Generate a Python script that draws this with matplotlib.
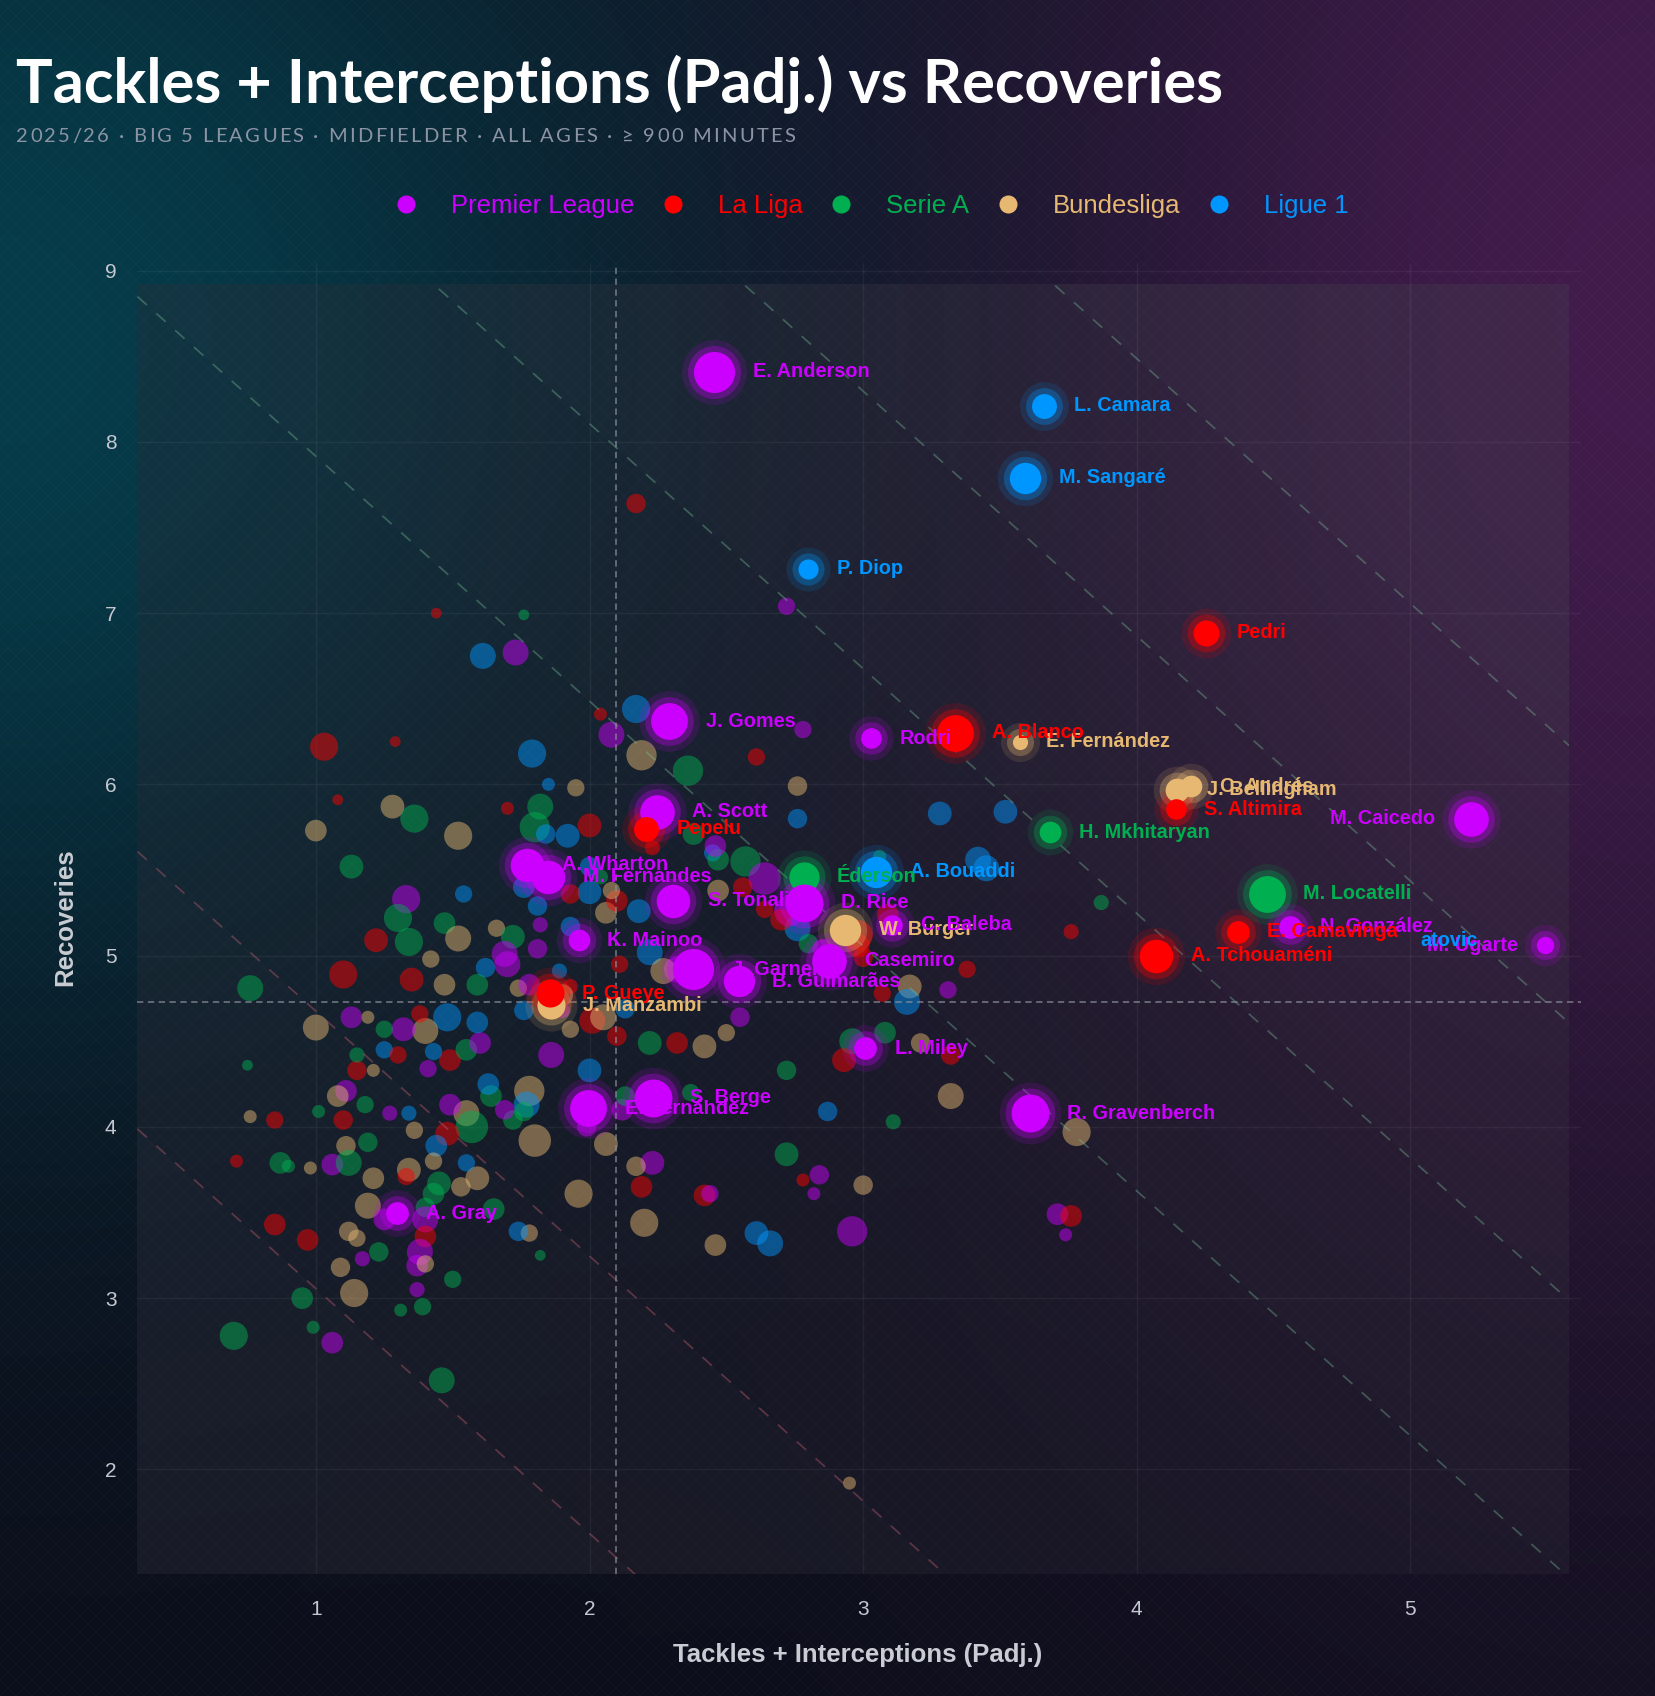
import matplotlib

matplotlib.use("Agg")
import matplotlib.pyplot as plt
import numpy as np
from matplotlib.collections import LineCollection
from matplotlib.lines import Line2D
from matplotlib.patches import Rectangle

W, H, DPI = 1656, 1696, 100

TITLE = "Tackles + Interceptions (Padj.) vs Recoveries"
SUBTITLE = "2025/26 · BIG 5 LEAGUES · MIDFIELDER · ALL AGES · ≥ 900 MINUTES"
X_LABEL = "Tackles + Interceptions (Padj.)"
Y_LABEL = "Recoveries"

LEAGUES = ["Premier League", "La Liga", "Serie A", "Bundesliga", "Ligue 1"]
LEAGUE_CODES = ["P", "R", "G", "B", "L"]
LEAGUE_COLORS = {"P": "#cc00ff", "R": "#ff0000", "G": "#00b050",
                 "B": "#e6b872", "L": "#0096ff"}

X_TICKS = [1, 2, 3, 4, 5]
Y_TICKS = [2, 3, 4, 5, 6, 7, 8, 9]

# medians used for the reference lines
X_MEAN = 2.095
Y_MEAN = 4.73

# labelled players (drawing order matters for overlapping labels)
names = ["E. Anderson", "L. Camara", "M. Sangaré", "P. Diop", "Pedri",
         "J. Gomes", "Rodri", "E. Fernández", "A. Blanco", "C. Andrés",
         "J. Bellingham", "S. Altimira", "M. Caicedo", "H. Mkhitaryan",
         "A. Scott", "Pepelu", "A. Wharton", "M. Fernandes", "A. Bouaddi",
         "Éderson", "S. Tonali", "D. Rice", "W. Burger", "C. Baleba",
         "K. Mainoo", "M. Locatelli", "N. González", "E. Camavinga",
         "A. Tchouaméni", "M. Ugarte", "J. Garner", "B. Guimarães",
         "Casemiro", "J. Manzambi", "P. Gueye", "L. Miley", "S. Berge",
         "E. Fernández", "R. Gravenberch", "A. Gray"]
lab_x = [2.455, 3.66, 3.593, 2.80, 4.253, 2.292, 3.028, 3.573, 3.336, 4.198,
         4.146, 4.142, 5.221, 3.684, 2.245, 2.206, 1.771, 1.85, 3.047, 2.783,
         2.304, 2.783, 2.933, 3.107, 1.96, 4.474, 4.561, 4.368, 4.071, 5.49,
         2.379, 2.545, 2.874, 1.858, 1.854, 3.008, 2.233, 1.996, 3.609, 1.296]
lab_y = [8.41, 8.21, 7.79, 7.26, 6.885, 6.37, 6.27, 6.25, 6.30, 5.99,
         5.97, 5.855, 5.80, 5.72, 5.84, 5.74, 5.53, 5.46, 5.49, 5.46,
         5.32, 5.31, 5.15, 5.18, 5.09, 5.36, 5.17, 5.14, 5.00, 5.06,
         4.92, 4.85, 4.97, 4.71, 4.78, 4.46, 4.17, 4.11, 4.08, 3.495]
lab_min = [2300, 1550, 1850, 1330, 1600, 2100, 1350, 1100, 2100, 1400,
           1500, 1350, 2000, 1400, 2000, 1550, 1950, 1950, 1850, 1800,
           1950, 2150, 1850, 1350, 1400, 2100, 1450, 1450, 1950, 1200,
           2300, 1850, 2000, 1700, 1700, 1450, 2150, 2100, 2150, 1450]
lab_lg = ["P", "L", "L", "L", "R", "P", "P", "B", "R", "B",
          "B", "R", "P", "G", "P", "R", "P", "P", "L", "G",
          "P", "P", "B", "P", "P", "G", "P", "R", "R", "P",
          "P", "P", "P", "B", "R", "P", "P", "P", "P", "P"]

# stray, partly hidden label seen at the right edge
extra_label = "atovic"
extra_x, extra_y, extra_lg = 5.036, 5.09, "L"

# all other midfielders (faded)
bg_x = [2.17, 1.44, 1.76, 2.72, 1.61, 1.73, 2.04, 1.29, 1.03, 2.17,
        2.08, 1.79, 2.19, 2.36, 2.61, 2.78, 2.76, 3.28, 3.52, 2.76,
        1.08, 1.28, 1.36, 1.00, 1.70, 1.52, 1.85, 1.95, 1.82, 1.92,
        2.00, 1.80, 1.84, 2.23, 2.38, 2.45, 2.57, 2.64, 2.47, 2.46,
        3.06, 3.42, 3.45, 3.87, 3.76, 1.13, 1.33, 1.54, 1.30, 1.34,
        1.22, 1.47, 1.52, 1.42, 1.66, 1.72, 1.69, 1.62, 1.70, 1.82,
        1.81, 1.93, 2.00, 2.06, 2.10, 2.18, 2.22, 2.11, 1.89, 1.93,
        1.90, 2.01, 1.93, 2.05, 2.13, 2.10, 2.22, 2.32, 2.42, 2.55,
        2.50, 2.64, 2.76, 2.80, 2.98, 3.00, 3.07, 3.17, 3.16, 3.31,
        3.38, 3.21, 3.32, 2.96, 3.08, 2.93, 2.72, 3.32, 2.87, 3.11,
        3.78, 2.72, 2.84, 2.78, 2.82, 3.00, 2.96, 3.71, 3.76, 3.74,
        2.61, 2.66, 2.46, 2.42, 2.44, 2.23, 2.17, 2.19, 2.20, 1.96,
        2.06, 2.12, 2.37, 2.13, 2.00, 1.99, 1.80, 1.78, 1.86, 1.77,
        1.76, 1.72, 1.64, 1.63, 1.69, 1.78, 1.74, 1.82, 1.59, 1.53,
        1.65, 1.55, 1.57, 1.48, 1.44, 1.55, 1.49, 1.49, 1.55, 1.60,
        1.59, 1.48, 1.40, 1.43, 1.41, 1.32, 1.38, 1.25, 1.19, 1.13,
        1.00, 1.10, 1.35, 1.47, 1.59, 0.76, 1.74, 1.25, 1.21, 1.30,
        1.15, 1.11, 1.08, 1.15, 0.75, 0.76, 0.85, 1.01, 1.10, 1.18,
        1.27, 1.34, 1.36, 1.19, 1.11, 1.06, 1.12, 0.71, 0.87, 0.90,
        0.98, 1.21, 1.34, 1.33, 1.43, 1.45, 1.43, 1.40, 1.19, 0.85,
        0.97, 1.12, 1.15, 1.23, 1.17, 1.25, 1.40, 1.40, 1.38, 1.37,
        1.40, 1.09, 1.50, 1.37, 1.14, 0.95, 1.31, 1.39, 0.99, 0.70,
        1.06, 1.46, 2.95, 1.76, 1.81, 1.93, 2.00, 2.04, 2.08, 2.73,
        2.56, 2.70, 2.47, 2.98, 3.09, 2.85, 2.32, 2.27, 1.78, 1.90,
        1.76]
bg_y = [7.64, 7.00, 6.99, 7.04, 6.75, 6.77, 6.41, 6.25, 6.22, 6.44,
        6.29, 6.18, 6.17, 6.08, 6.16, 6.32, 5.99, 5.83, 5.84, 5.80,
        5.91, 5.87, 5.80, 5.73, 5.86, 5.70, 6.00, 5.98, 5.87, 5.70,
        5.76, 5.75, 5.71, 5.63, 5.71, 5.60, 5.55, 5.45, 5.56, 5.64,
        5.58, 5.56, 5.51, 5.31, 5.14, 5.52, 5.33, 5.36, 5.22, 5.08,
        5.09, 5.19, 5.10, 4.98, 5.16, 5.11, 5.01, 4.93, 4.95, 5.18,
        5.04, 5.17, 5.37, 5.25, 5.32, 5.26, 5.02, 4.95, 4.91, 4.82,
        4.68, 4.62, 4.57, 4.64, 4.69, 4.53, 4.49, 4.49, 4.47, 4.64,
        4.55, 5.27, 5.16, 5.07, 5.06, 4.99, 4.78, 4.82, 4.73, 4.80,
        4.92, 4.49, 4.42, 4.50, 4.55, 4.39, 4.33, 4.18, 4.09, 4.03,
        3.97, 3.84, 3.72, 3.69, 3.61, 3.66, 3.39, 3.49, 3.48, 3.37,
        3.38, 3.32, 3.31, 3.60, 3.61, 3.79, 3.77, 3.65, 3.44, 3.61,
        3.90, 4.10, 4.20, 4.18, 4.33, 4.00, 3.92, 4.21, 4.42, 4.13,
        4.09, 4.04, 4.18, 4.25, 4.10, 3.38, 3.39, 3.25, 3.70, 3.65,
        3.52, 4.08, 4.00, 3.96, 3.89, 3.79, 4.13, 4.39, 4.45, 4.49,
        4.61, 4.64, 4.56, 4.44, 4.34, 4.57, 4.66, 4.57, 4.64, 4.64,
        4.58, 4.89, 4.86, 4.83, 4.83, 4.81, 4.81, 4.45, 4.33, 4.42,
        4.33, 4.21, 4.18, 4.42, 4.36, 4.06, 4.04, 4.09, 4.04, 4.13,
        4.08, 4.08, 3.98, 3.91, 3.89, 3.78, 3.79, 3.80, 3.79, 3.77,
        3.76, 3.70, 3.75, 3.71, 3.80, 3.67, 3.61, 3.53, 3.54, 3.43,
        3.34, 3.39, 3.35, 3.27, 3.23, 3.46, 3.46, 3.36, 3.27, 3.19,
        3.20, 3.18, 3.11, 3.05, 3.03, 3.00, 2.93, 2.95, 2.83, 2.78,
        2.74, 2.52, 1.92, 5.40, 5.29, 5.36, 5.52, 5.46, 5.38, 5.26,
        5.40, 5.21, 5.38, 5.12, 5.24, 5.04, 4.92, 4.91, 4.83, 4.77,
        4.68]
bg_min = [1300, 900, 900, 1200, 1600, 1600, 1000, 900, 1700, 1700,
          1600, 1700, 1800, 1800, 1200, 1200, 1300, 1500, 1500, 1300,
          900, 1500, 1700, 1400, 1000, 1700, 1000, 1200, 1600, 1500,
          1500, 1800, 1300, 1100, 1400, 1200, 1800, 1900, 1400, 1400,
          1000, 1600, 1600, 1100, 1100, 1500, 1700, 1200, 1700, 1700,
          1500, 1400, 1600, 1200, 1200, 1500, 1600, 1300, 1600, 1100,
          1300, 1300, 1500, 1400, 1400, 1500, 1600, 1200, 1100, 1100,
          1100, 1600, 1200, 1600, 1300, 1300, 1500, 1400, 1500, 1300,
          1200, 1200, 1600, 1300, 1500, 1300, 1200, 1500, 1600, 1200,
          1200, 1300, 1300, 1600, 1400, 1500, 1300, 1600, 1300, 1100,
          1700, 1500, 1300, 1000, 1000, 1300, 1800, 1400, 1400, 1000,
          1500, 1600, 1400, 1400, 1200, 1500, 1300, 1400, 1700, 1700,
          1500, 1400, 1200, 1300, 1500, 1300, 1900, 1800, 1600, 1600,
          1300, 1300, 1400, 1400, 1300, 1200, 1300, 900, 1500, 1300,
          1400, 1600, 1900, 1500, 1400, 1200, 1400, 1400, 1400, 1400,
          1400, 1700, 1600, 1200, 1200, 1500, 1200, 1200, 1000, 1400,
          1600, 1700, 1500, 1400, 1400, 1600, 1200, 1200, 1000, 1200,
          1300, 1400, 1400, 1100, 900, 1000, 1200, 1000, 1300, 1200,
          1100, 1100, 1200, 1300, 1300, 1400, 1600, 1000, 1400, 1000,
          1000, 1400, 1500, 1200, 1200, 1500, 1400, 1300, 1600, 1400,
          1400, 1300, 1200, 1300, 1100, 1400, 1600, 1400, 1600, 1400,
          1200, 1300, 1200, 1100, 1700, 1400, 1000, 1200, 1000, 1700,
          1400, 1600, 1000, 1400, 1300, 1300, 1300, 1100, 1200, 1800,
          1300, 1400, 1400, 1800, 1400, 1300, 1600, 1600, 1400, 1400,
          1300]
bg_lg = ["R", "R", "G", "P", "L", "P", "R", "R", "R", "L",
         "P", "L", "B", "G", "R", "P", "B", "L", "L", "L",
         "R", "B", "G", "B", "R", "B", "L", "B", "G", "L",
         "R", "G", "L", "R", "G", "L", "G", "P", "G", "P",
         "G", "L", "L", "G", "R", "G", "P", "L", "G", "G",
         "R", "G", "B", "B", "B", "G", "P", "L", "P", "P",
         "P", "L", "L", "B", "R", "L", "L", "R", "L", "R",
         "P", "R", "B", "B", "L", "R", "G", "R", "B", "P",
         "B", "R", "L", "G", "R", "R", "R", "B", "L", "P",
         "R", "B", "R", "G", "G", "R", "G", "B", "L", "G",
         "B", "G", "P", "R", "P", "B", "P", "P", "R", "P",
         "L", "L", "B", "R", "P", "P", "B", "R", "B", "B",
         "B", "P", "G", "G", "L", "P", "B", "B", "P", "L",
         "G", "G", "G", "L", "P", "B", "L", "G", "B", "B",
         "G", "B", "G", "R", "L", "L", "P", "R", "G", "P",
         "L", "L", "B", "L", "P", "P", "R", "G", "B", "P",
         "B", "R", "R", "B", "G", "G", "B", "L", "B", "R",
         "R", "P", "B", "G", "G", "B", "R", "G", "R", "G",
         "P", "L", "B", "G", "B", "P", "G", "R", "G", "G",
         "B", "B", "B", "R", "B", "G", "G", "G", "B", "R",
         "R", "B", "B", "G", "P", "P", "P", "R", "P", "P",
         "B", "B", "G", "P", "B", "G", "G", "G", "G", "G",
         "P", "G", "B", "L", "L", "R", "L", "G", "B", "P",
         "R", "R", "B", "R", "R", "P", "P", "B", "P", "B",
         "L"]

# z-score style diagonal guides: y + SLOPE * x = C0 + k * STEP
SLOPE = 1.43
C0 = Y_MEAN + SLOPE * X_MEAN
STEP = 1.62
LEVELS = [-2, -1, 1, 2, 3, 4]

XLIM = (0.348, 5.625)
YLIM = (1.39, 9.045)
PANEL = (0.348, 1.39, 5.58, 8.92)   # x0, y0, x1, y1


def radius_pt(minutes):
    return (5 + (np.asarray(minutes, dtype=float) - 900) / 100) * 0.779


fig = plt.figure(figsize=(W / DPI, H / DPI), dpi=DPI)

# ── background gradient + diamond texture ─────────────────────────
bg_ax = fig.add_axes([0, 0, 1, 1], zorder=-10)
bg_ax.set_axis_off()
gx, gy = np.meshgrid(np.linspace(0, 1, 400), np.linspace(1, 0, 400))
base = np.array([12, 14, 26]) / 255
teal = np.array([6, 60, 74]) / 255
purple = np.array([66, 28, 76]) / 255
w_teal = np.exp(-((gx / 0.42) ** 2 + ((gy - 0.80) / 0.42) ** 2))
w_purp = np.exp(-(((1 - gx) / 0.42) ** 2 + ((gy - 0.82) / 0.60) ** 2))
w_purp = np.clip(w_purp, 0, 1) * (1 - w_teal)
img = (base[None, None, :] * (1 - w_teal - w_purp)[..., None]
       + teal[None, None, :] * w_teal[..., None]
       + purple[None, None, :] * w_purp[..., None])
bg_ax.imshow(np.clip(img, 0, 1), extent=[0, W, 0, H], aspect="auto",
             interpolation="bilinear")
segs = []
for k in range(-H, W + H, 16):
    segs.append([(k, 0), (k + H, H)])
    segs.append([(k, 0), (k - H, H)])
bg_ax.add_collection(LineCollection(segs, colors="white", linewidths=0.6,
                                    alpha=0.03))
bg_ax.set_xlim(0, W)
bg_ax.set_ylim(0, H)

# ── main axes ──────────────────────────────────────────────────────
ax = fig.add_axes([0.083, 0.072, 0.872, 0.773])
ax.patch.set_alpha(0)
ax.set_xlim(*XLIM)
ax.set_ylim(*YLIM)
for s in ax.spines.values():
    s.set_visible(False)
ax.set_xticks(X_TICKS)
ax.set_yticks(Y_TICKS)
ax.tick_params(length=0, labelsize=15, labelcolor="#c4c8d0")
ax.tick_params(axis="x", pad=19)
ax.tick_params(axis="y", pad=15)
for lab in ax.get_xticklabels() + ax.get_yticklabels():
    lab.set_family("Liberation Sans")
ax.grid(True, color="white", alpha=0.05, lw=1)
ax.set_axisbelow(True)

# panel: greyish veil that mutes the purple glow
panel = Rectangle((PANEL[0], PANEL[1]), PANEL[2] - PANEL[0],
                  PANEL[3] - PANEL[1], facecolor="#1c1a26", alpha=0.28,
                  edgecolor="none", zorder=0.4)
ax.add_patch(panel)
ax.add_patch(Rectangle((PANEL[0], PANEL[1]), PANEL[2] - PANEL[0],
                       PANEL[3] - PANEL[1], facecolor="white", alpha=0.022,
                       edgecolor="none", zorder=0.45))

# shaded bands, a bit lighter the further from the median line
bx, by = np.meshgrid(np.linspace(PANEL[0], PANEL[2], 1400),
                     np.linspace(PANEL[1], PANEL[3], 1400))
z = (by + SLOPE * bx - C0) / STEP
lvl = np.where(z < 0, np.clip(np.floor(-z), 0, 2), np.clip(np.floor(z), 0, 4))
band = np.zeros(bx.shape + (4,))
band[..., :3] = np.array([200, 196, 212]) / 255
band[..., 3] = 0.013 * lvl
ax.imshow(band, extent=[PANEL[0], PANEL[2], PANEL[1], PANEL[3]],
          origin="lower", aspect="auto", interpolation="nearest", zorder=0.5)
ax.set_xlim(*XLIM)
ax.set_ylim(*YLIM)

# faded points
bg_r = radius_pt(bg_min)
bg_c = [LEAGUE_COLORS[c] for c in bg_lg]
ax.scatter(bg_x, bg_y, s=(2 * bg_r) ** 2, c=bg_c, alpha=0.48,
           linewidths=0, zorder=2)

# diagonal guides
xs = np.linspace(PANEL[0], PANEL[2], 400)
for k in LEVELS:
    ys = C0 + k * STEP - SLOPE * xs
    col = "#7cc39a" if k > 0 else "#d56676"
    ln, = ax.plot(xs, ys, color=col, alpha=0.36, lw=1.3,
                  ls=(0, (7, 7)), zorder=3)
    ln.set_clip_path(panel)

# median lines
ax.axvline(X_MEAN, color="#8a8f9a", lw=1.3, alpha=0.7,
           ls=(0, (3.5, 2.5)), zorder=3)
ax.axhline(Y_MEAN, color="#8a8f9a", lw=1.3, alpha=0.7,
           ls=(0, (3.5, 2.5)), zorder=3)

# highlighted players
lab_r = radius_pt(lab_min)
for x, y, r, lg in zip(lab_x, lab_y, lab_r, lab_lg):
    c = LEAGUE_COLORS[lg]
    ax.scatter([x], [y], s=(2 * (r + 8.6)) ** 2, color=c, alpha=0.13,
               linewidths=0, zorder=4)
    ax.scatter([x], [y], s=(2 * (r + 4.3)) ** 2, color=c, alpha=0.30,
               linewidths=0, zorder=4)
    ax.scatter([x], [y], s=(2 * r) ** 2, color=c, linewidths=0, zorder=5)

for name, x, y, r, lg in zip(names, lab_x, lab_y, lab_r, lab_lg):
    right = x > 5.0
    ax.annotate(name, (x, y), xytext=(-(r + 13) if right else r + 13, 0),
                textcoords="offset points", ha="right" if right else "left",
                va="center", fontsize=14.3, fontweight="bold",
                family="Liberation Sans", color=LEAGUE_COLORS[lg], zorder=6)
ax.text(extra_x, extra_y, extra_label, ha="left", va="center", fontsize=14.3,
        fontweight="bold", family="Liberation Sans",
        color=LEAGUE_COLORS[extra_lg], zorder=6)

# ── titles, legend, axis labels ───────────────────────────────────
renderer = fig.canvas.get_renderer()

title = fig.text(16 / W, 0.939, TITLE, family="Lato", fontweight="bold",
                 color="white", fontsize=44, va="baseline", ha="left")
tw = title.get_window_extent(renderer).width
title.set_fontsize(44 * 1207 / tw)

sub_kw = dict(family="Lato", fontsize=14.5, color="#8c94a4", va="baseline")
ref = fig.text(0, 0, "||", **sub_kw)
ref_w = ref.get_window_extent(renderer).width
ref.remove()
adv = []
for ch in SUBTITLE:
    t = fig.text(0, 0, "|" + ch + "|", **sub_kw)
    adv.append(t.get_window_extent(renderer).width - ref_w)
    t.remove()
track = (779 - sum(adv)) / (len(SUBTITLE) - 1)
xpos = 16.0
for ch, a in zip(SUBTITLE, adv):
    fig.text(xpos / W, 0.9164, ch, ha="left", **sub_kw)
    xpos += a + track

handles = [Line2D([0], [0], marker="o", ls="none", markersize=13,
                  markerfacecolor=LEAGUE_COLORS[c], markeredgewidth=0)
           for c in LEAGUE_CODES]
fig.legend(handles, LEAGUES, loc="center", bbox_to_anchor=(0.526, 0.8788),
           ncol=5, frameon=False, handlelength=1.0, handletextpad=1.25,
           columnspacing=1.0,
           labelcolor=[LEAGUE_COLORS[c] for c in LEAGUE_CODES],
           prop={"family": "Liberation Sans", "size": 18.5})

fig.text(0.518, 0.0242, X_LABEL, ha="center", va="center", fontsize=18.5,
         fontweight="bold", color="#c9ccd3", family="Liberation Sans")
fig.text(0.0392, 0.4593, Y_LABEL, ha="center", va="center", rotation=90,
         fontsize=18.5, fontweight="bold", color="#c9ccd3",
         family="Liberation Sans")

fig.savefig("out.png", dpi=DPI)
